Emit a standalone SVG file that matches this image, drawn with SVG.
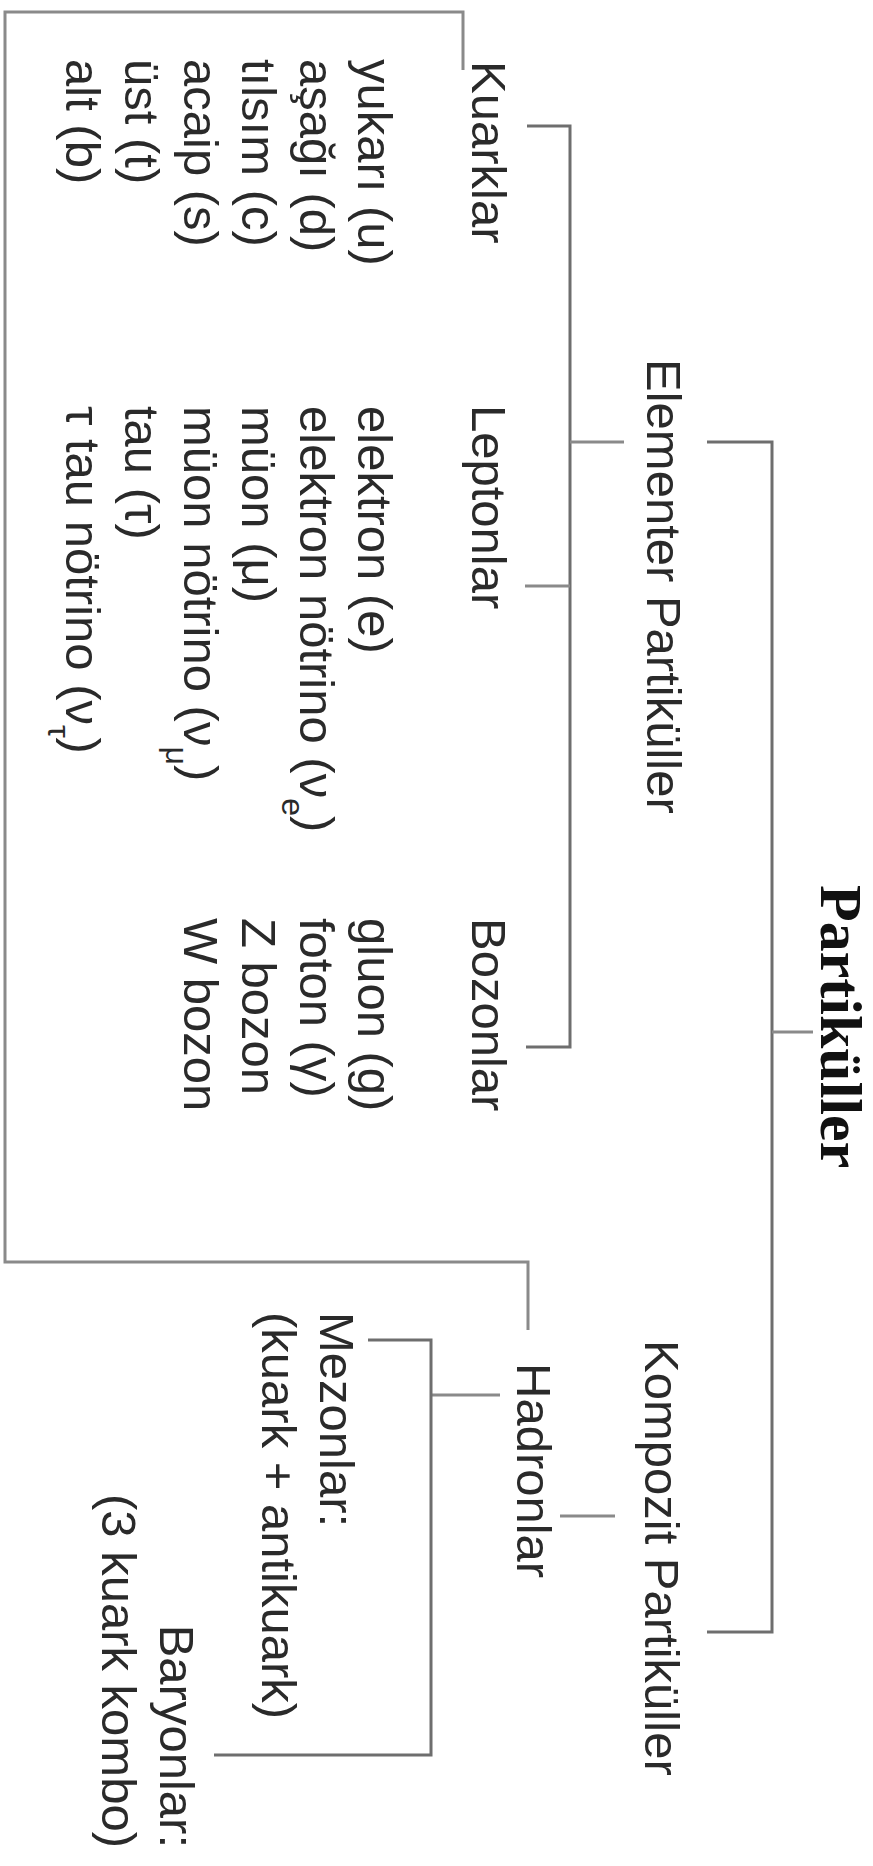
<svg xmlns="http://www.w3.org/2000/svg" width="873" height="1866" viewBox="0 0 873 1866">
<style>
.t{font-family:"Liberation Sans",Arial,sans-serif;font-size:49px;fill:#2a2a2a}
.b{font-family:"Liberation Serif","Times New Roman",serif;font-size:60px;font-weight:bold;fill:#111}
.sub{font-size:32px}
.ln{fill:none;stroke:#6e6e6e;stroke-width:3;stroke-linecap:butt;stroke-linejoin:miter}
.lo{fill:none;stroke:#8a8a8a;stroke-width:3}
.tk{fill:none;stroke:#8a8a8a;stroke-width:3}
</style>
<rect width="873" height="1866" fill="#fff"/>
<g id="connectors">
<polyline class="lo" points="463,70 463,12 5,12 5,1262 528,1262 528,1330"/>
<polyline class="ln" points="527,126 570,126 570,1047 526,1047"/>
<line class="tk" x1="525" y1="586" x2="570" y2="586"/>
<line class="tk" x1="570" y1="442" x2="624" y2="442"/>
<polyline class="ln" points="707,442 772,442 772,1632 707,1632"/>
<line class="tk" x1="772" y1="1032" x2="813" y2="1032"/>
<line class="tk" x1="560" y1="1516" x2="615" y2="1516"/>
<line class="tk" x1="431" y1="1395" x2="500" y2="1395"/>
<polyline class="ln" points="368,1340 431,1340 431,1755 214,1755"/>
</g>
<g id="partikuller"><text class="b" transform="translate(821,885) rotate(90)">Partiküller</text></g>
<g id="elementer"><text class="t" transform="translate(647,359) rotate(90)">Elementer Partiküller</text></g>
<g id="kompozit"><text class="t" transform="translate(645,1340) rotate(90)">Kompozit Partiküller</text></g>
<g id="kuarklar"><text class="t" transform="translate(472,61) rotate(90)">Kuarklar</text></g>
<g id="leptonlar"><text class="t" transform="translate(472,405) rotate(90)">Leptonlar</text></g>
<g id="bozonlar"><text class="t" transform="translate(472,918) rotate(90)">Bozonlar</text></g>
<g id="hadronlar"><text class="t" transform="translate(517,1363) rotate(90)">Hadronlar</text></g>
<g id="kuark-list">
<text class="t" transform="translate(358,59) rotate(90)">yukarı (u)</text>
<text class="t" transform="translate(300,59) rotate(90)">aşağı (d)</text>
<text class="t" transform="translate(242,59) rotate(90)">tılsım (c)</text>
<text class="t" transform="translate(184,59) rotate(90)">acaip (s)</text>
<text class="t" transform="translate(125,59) rotate(90)">üst (t)</text>
<text class="t" transform="translate(66,59) rotate(90)">alt (b)</text>
</g>
<g id="lepton-list">
<text class="t" transform="translate(358,406) rotate(90)">elektron (e)</text>
<text class="t" transform="translate(300,406) rotate(90)">elektron nötrino (ν<tspan class="sub" baseline-shift="sub">e</tspan>)</text>
<text class="t" transform="translate(242,406) rotate(90)">müon (μ)</text>
<text class="t" transform="translate(184,406) rotate(90)">müon nötrino (ν<tspan class="sub" baseline-shift="sub">μ</tspan>)</text>
<text class="t" transform="translate(125,406) rotate(90)">tau (τ)</text>
<text class="t" transform="translate(66,406) rotate(90)">τ tau nötrino (ν<tspan class="sub" baseline-shift="sub">τ</tspan>)</text>
</g>
<g id="bozon-list">
<text class="t" transform="translate(358,918) rotate(90)">gluon (g)</text>
<text class="t" transform="translate(300,918) rotate(90)">foton (γ)</text>
<text class="t" transform="translate(242,918) rotate(90)">Z bozon</text>
<text class="t" transform="translate(184,918) rotate(90)">W bozon</text>
</g>
<g id="mezonlar">
<text class="t" transform="translate(320,1312) rotate(90)">Mezonlar:</text>
<text class="t" transform="translate(262,1312) rotate(90)">(kuark + antikuark)</text>
</g>
<g id="baryonlar">
<text class="t" text-anchor="end" transform="translate(160,1848) rotate(90)">Baryonlar:</text>
<text class="t" text-anchor="end" transform="translate(102,1848) rotate(90)">(3 kuark kombo)</text>
</g>
</svg>
